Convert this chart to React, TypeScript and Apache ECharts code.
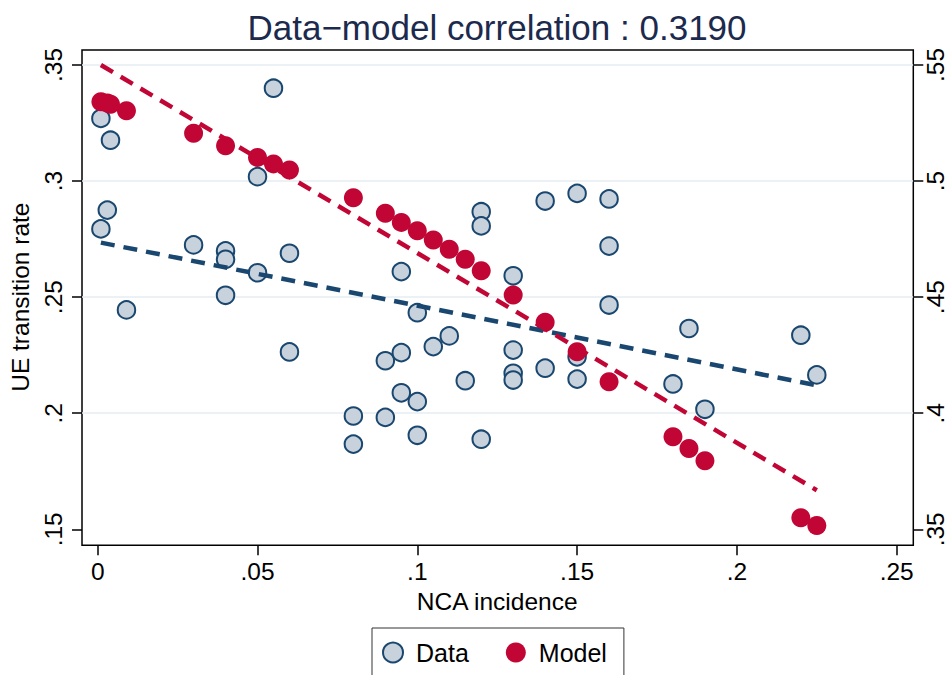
import React, { useEffect, useRef } from "react";
import * as echarts from "echarts";

// ---- data ----
const dataX = [0.001, 0.004, 0.003, 0.001, 0.009, 0.03, 0.04, 0.04, 0.04, 0.05, 0.05, 0.055, 0.06, 0.06, 0.08, 0.08, 0.09, 0.09, 0.095, 0.095, 0.095, 0.1, 0.1, 0.1, 0.105, 0.11, 0.115, 0.12, 0.12, 0.12, 0.13, 0.13, 0.13, 0.13, 0.14, 0.14, 0.15, 0.15, 0.15, 0.16, 0.16, 0.16, 0.18, 0.185, 0.19, 0.22, 0.225];
const dataY = [0.327, 0.3176, 0.2875, 0.2794, 0.2445, 0.2725, 0.2699, 0.2663, 0.2508, 0.3019, 0.2605, 0.34, 0.2689, 0.2264, 0.1988, 0.1867, 0.2226, 0.1982, 0.261, 0.2261, 0.2088, 0.2433, 0.205, 0.1905, 0.2287, 0.2333, 0.214, 0.2868, 0.2807, 0.1888, 0.2592, 0.2272, 0.2172, 0.2143, 0.2914, 0.2194, 0.2947, 0.2243, 0.2147, 0.2923, 0.272, 0.2466, 0.2126, 0.2365, 0.2017, 0.2336, 0.2165];

const modelX = [0.001, 0.003, 0.004, 0.009, 0.03, 0.04, 0.05, 0.055, 0.06, 0.08, 0.09, 0.095, 0.1, 0.105, 0.11, 0.115, 0.12, 0.13, 0.14, 0.15, 0.16, 0.18, 0.185, 0.19, 0.22, 0.225];
const modelY = [0.5342, 0.5336, 0.5331, 0.5303, 0.5206, 0.5152, 0.5102, 0.5074, 0.5048, 0.4928, 0.4861, 0.4822, 0.4786, 0.4746, 0.4706, 0.4663, 0.4614, 0.4509, 0.4392, 0.4265, 0.4136, 0.3899, 0.3848, 0.3795, 0.355, 0.3516];

const fitX = [0.001, 0.225];
const dataFitY = [0.2735, 0.212];
const modelFitY = [0.55, 0.3668];

const xTicks = { min: 0, max: 0.25, interval: 0.05 };
const leftTicks = { min: 0.15, max: 0.35, interval: 0.05 };
const rightTicks = { min: 0.35, max: 0.55, interval: 0.05 };

const titleText = "Data\u2212model correlation : 0.3190";
const xName = "NCA incidence";
const yName = "UE transition rate";
const legendNames = ["Data", "Model"];

const NAVY = "#1a476f";
const RED = "#c10534";
const FILL = "#c8d2dc";
const FONT = "'Liberation Sans', Arial, Helvetica, sans-serif";

const fmt = (v: number) => {
  const s = String(Math.round(v * 1000) / 1000);
  return s.startsWith("0.") ? s.slice(1) : s;
};

export default function App() {
  const ref = useRef<HTMLDivElement>(null);
  useEffect(() => {
    if (!ref.current) return;
    const chart = echarts.init(ref.current, undefined, { renderer: "svg" });
    const tickLabel = { fontFamily: FONT, fontSize: 24.5, color: "#000" };
    const tickLine = { show: true, length: 10, lineStyle: { color: "#000", width: 1.5 } };
    chart.setOption({
      animation: false,
      backgroundColor: "#fff",
      title: {
        text: titleText,
        left: 497,
        top: 10,
        padding: 0,
        textAlign: "center",
        textStyle: { fontFamily: FONT, fontSize: 35, fontWeight: "normal", color: "#1c2a4d" },
      },
      legend: {
        data: legendNames,
        left: 372,
        top: 628,
        orient: "horizontal",
        itemWidth: 36,
        itemHeight: 20,
        itemGap: 37,
        padding: [12, 17, 20, 10],
        borderColor: "#333",
        borderWidth: 1,
        textStyle: { fontFamily: FONT, fontSize: 25, color: "#000" },
        selectedMode: false,
      },
      grid: [
        { left: 97.7, right: 55.3, top: 65, bottom: 145.7, containLabel: false },
        { left: 82, right: 38.7, top: 65, bottom: 145.7, containLabel: false },
        { left: 82, right: 38.7, top: 50, bottom: 129.7, show: true, borderColor: "#000", borderWidth: 1.5, backgroundColor: "transparent", containLabel: false },
      ],
      xAxis: [
        {
          type: "value",
          gridIndex: 0,
          min: xTicks.min,
          max: xTicks.max,
          interval: xTicks.interval,
          position: "bottom",
          offset: 16,
          axisLine: { show: false },
          axisTick: tickLine,
          splitLine: { show: false },
          axisLabel: { ...tickLabel, margin: 14, formatter: fmt },
          name: xName,
          nameLocation: "middle",
          nameGap: 39,
          nameTextStyle: { fontFamily: FONT, fontSize: 24.5, color: "#000" },
        },
        { type: "value", gridIndex: 1, min: 0, max: 1, show: false },
        { type: "value", gridIndex: 2, min: 0, max: 1, show: false },
      ],
      yAxis: [
        { type: "value", gridIndex: 0, min: leftTicks.min, max: leftTicks.max, show: false },
        { type: "value", gridIndex: 0, min: rightTicks.min, max: rightTicks.max, show: false, position: "right" },
        {
          type: "value",
          gridIndex: 1,
          position: "left",
          min: leftTicks.min,
          max: leftTicks.max,
          interval: leftTicks.interval,
          axisLine: { show: false },
          axisTick: tickLine,
          axisLabel: { ...tickLabel, rotate: 90, margin: 16, formatter: fmt },
          splitLine: { show: true, showMinLine: false, lineStyle: { color: "#e4edf0", width: 1.5 } },
          name: yName,
          nameLocation: "middle",
          nameRotate: 90,
          nameGap: 45,
          nameTextStyle: { fontFamily: FONT, fontSize: 24.5, color: "#000" },
        },
        {
          type: "value",
          gridIndex: 1,
          position: "right",
          min: rightTicks.min,
          max: rightTicks.max,
          interval: rightTicks.interval,
          axisLine: { show: false },
          axisTick: tickLine,
          axisLabel: { ...tickLabel, rotate: 90, margin: 10, formatter: fmt },
          splitLine: { show: false },
        },
        { type: "value", gridIndex: 2, min: 0, max: 1, show: false },
      ],
      series: [
        {
          name: "Data",
          type: "scatter",
          xAxisIndex: 0,
          yAxisIndex: 0,
          symbol: "circle",
          symbolSize: 17.5,
          itemStyle: { color: FILL, borderColor: NAVY, borderWidth: 2, opacity: 1 },
          data: dataX.map((x, i) => [x, dataY[i]]),
          silent: true,
        },
        {
          name: "Model",
          type: "scatter",
          xAxisIndex: 0,
          yAxisIndex: 1,
          symbol: "circle",
          symbolSize: 19,
          itemStyle: { color: RED, opacity: 1 },
          data: modelX.map((x, i) => [x, modelY[i]]),
          silent: true,
        },
        {
          name: "Data fit",
          type: "line",
          xAxisIndex: 0,
          yAxisIndex: 0,
          symbol: "none",
          lineStyle: { color: NAVY, width: 4.5, type: [14, 9] },
          data: fitX.map((x, i) => [x, dataFitY[i]]),
          silent: true,
        },
        {
          name: "Model fit",
          type: "line",
          xAxisIndex: 0,
          yAxisIndex: 1,
          symbol: "none",
          lineStyle: { color: RED, width: 4.5, type: [14, 9] },
          data: fitX.map((x, i) => [x, modelFitY[i]]),
          silent: true,
        },
      ],
    });
    return () => chart.dispose();
  }, []);
  return <div ref={ref} style={{ width: 952, height: 675, position: "absolute", left: 0, top: 0 }} />;
}
